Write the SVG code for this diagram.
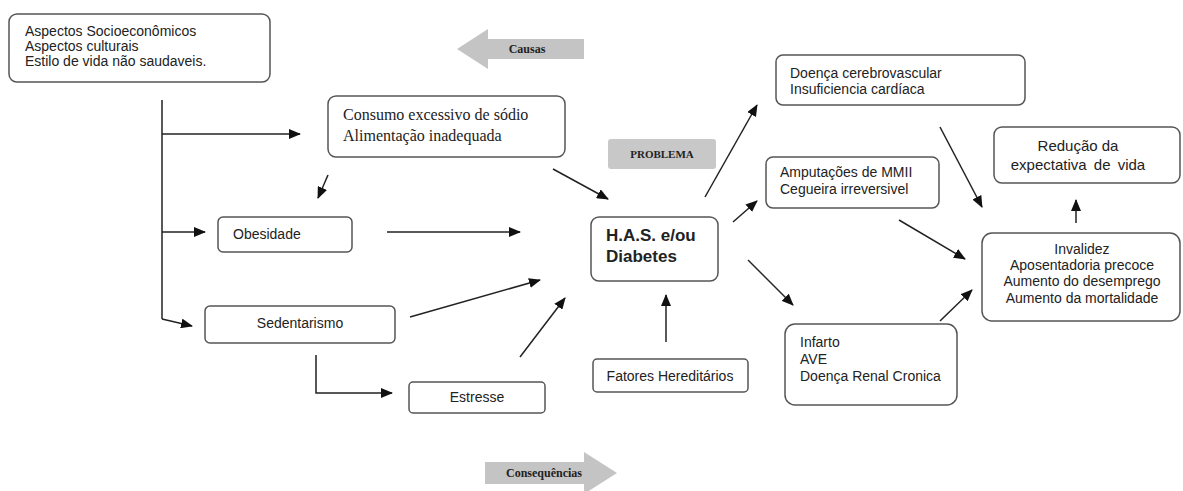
<svg xmlns="http://www.w3.org/2000/svg" width="1183" height="491" viewBox="0 0 1183 491">
<style>
.box{fill:#fff;stroke:#555;stroke-width:1.5}
.t{font-family:"Liberation Sans",Arial,sans-serif;font-size:14px;fill:#222}
.s{font-family:"Liberation Serif","Times New Roman",serif;fill:#222}
.b{font-weight:bold}
.h{font-size:17px}
.r{font-size:15px}
.c{stroke:#222;stroke-width:1.5;fill:none}
.a{marker-end:url(#ah)}
.g{fill:#c4c4c4}
</style>
<defs>
<marker id="ah" markerUnits="userSpaceOnUse" markerWidth="12" markerHeight="10" refX="11" refY="5" orient="auto">
<path d="M0,0 L12,5 L0,10 z" fill="#111"/>
</marker>
</defs>
<rect width="1183" height="491" fill="#fff"/>

<g id="causas">
<path class="g" d="M457,49 L488,29 L488,39 L584,39 L584,59 L488,59 L488,69 Z"/>
<text class="s b" x="527" y="53" font-size="12" text-anchor="middle">Causas</text>
</g>
<g id="consequencias">
<path class="g" d="M485,462 L584,462 L584,452 L617,473 L584,494 L584,484 L485,484 Z"/>
<text class="s b" x="544" y="477" font-size="12" text-anchor="middle">Consequências</text>
</g>

<g id="connectors">
<path class="c" d="M162,100 L162,319"/>
<path class="c a" d="M162,134 L300,134"/>
<path class="c a" d="M162,232 L205,232"/>
<path class="c a" d="M162,319 L192,326"/>
<path class="c a" d="M328,175 L318,198"/>
<path class="c a" d="M553,169 L608,199"/>
<path class="c a" d="M387,232 L520,232"/>
<path class="c a" d="M410,317 L540,280"/>
<path class="c a" d="M520,357 L565,298"/>
<path class="c a" d="M316,355 L316,393 L392,393"/>
<path class="c a" d="M666,342 L666,295"/>
<path class="c a" d="M705,197 L757,105"/>
<path class="c a" d="M733,222 L757,201"/>
<path class="c a" d="M748,260 L793,305"/>
<path class="c a" d="M940,127 L982,207"/>
<path class="c a" d="M899,220 L965,259"/>
<path class="c a" d="M940,321 L972,290"/>
<path class="c a" d="M1076,223 L1076,200"/>
</g>

<g id="aspectos">
<rect class="box" x="9" y="14" width="261" height="68" rx="8"/>
<text class="t" x="25" y="36">Aspectos Socioeconômicos</text>
<text class="t" x="25" y="51">Aspectos culturais</text>
<text class="t" x="25" y="66">Estilo de vida não saudaveis.</text>
</g>

<g id="consumo">
<rect class="box" x="328" y="96" width="237" height="61" rx="8"/>
<text class="s" x="343" y="120" font-size="16">Consumo excessivo  de sódio</text>
<text class="s" x="343" y="141" font-size="16">Alimentação inadequada</text>
</g>

<g id="problema">
<rect x="608" y="139" width="108" height="30" rx="3" fill="#c8c8c8"/>
<text class="s b" x="662" y="158" font-size="11" text-anchor="middle">PROBLEMA</text>
</g>

<g id="obesidade">
<rect class="box" x="218" y="217" width="134" height="35" rx="5"/>
<text class="t" x="233" y="239">Obesidade</text>
</g>

<g id="sedentarismo">
<rect class="box" x="205" y="306" width="190" height="37" rx="5"/>
<text class="t" x="300" y="328" text-anchor="middle">Sedentarismo</text>
</g>

<g id="estresse">
<rect class="box" x="409" y="382" width="136" height="31" rx="4"/>
<text class="t" x="477" y="402" text-anchor="middle">Estresse</text>
</g>

<g id="has">
<rect class="box" x="591" y="217" width="127" height="64" rx="8"/>
<text class="t b h" x="606" y="241">H.A.S. e/ou</text>
<text class="t b h" x="606" y="262">Diabetes</text>
</g>

<g id="fatores">
<rect class="box" x="593" y="359" width="155" height="33" rx="4"/>
<text class="t" x="670" y="381" text-anchor="middle">Fatores Hereditários</text>
</g>

<g id="doenca">
<rect class="box" x="776" y="55" width="249" height="50" rx="7"/>
<text class="t" x="790" y="78">Doença cerebrovascular</text>
<text class="t" x="790" y="94">Insuficiencia cardíaca</text>
</g>

<g id="amputacoes">
<rect class="box" x="766" y="157" width="173" height="51" rx="7"/>
<text class="t" x="780" y="177">Amputações de MMII</text>
<text class="t" x="780" y="194">Cegueira irreversivel</text>
</g>

<g id="infarto">
<rect class="box" x="785" y="324" width="172" height="81" rx="10"/>
<text class="t" x="800" y="347">Infarto</text>
<text class="t" x="800" y="364">AVE</text>
<text class="t" x="800" y="381">Doença Renal Cronica</text>
</g>

<g id="reducao">
<rect class="box" x="994" y="127" width="186" height="56" rx="8"/>
<text class="t r" x="1078" y="151" text-anchor="middle">Redução da</text>
<text class="t r" x="1078" y="170" text-anchor="middle" word-spacing="3">expectativa de vida</text>
</g>

<g id="invalidez">
<rect class="box" x="982" y="233" width="198" height="88" rx="10"/>
<text class="t" x="1082" y="254" text-anchor="middle">Invalidez</text>
<text class="t" x="1082" y="270" text-anchor="middle">Aposentadoria precoce</text>
<text class="t" x="1082" y="286" text-anchor="middle">Aumento do desemprego</text>
<text class="t" x="1082" y="303" text-anchor="middle">Aumento da mortalidade</text>
</g>
</svg>
